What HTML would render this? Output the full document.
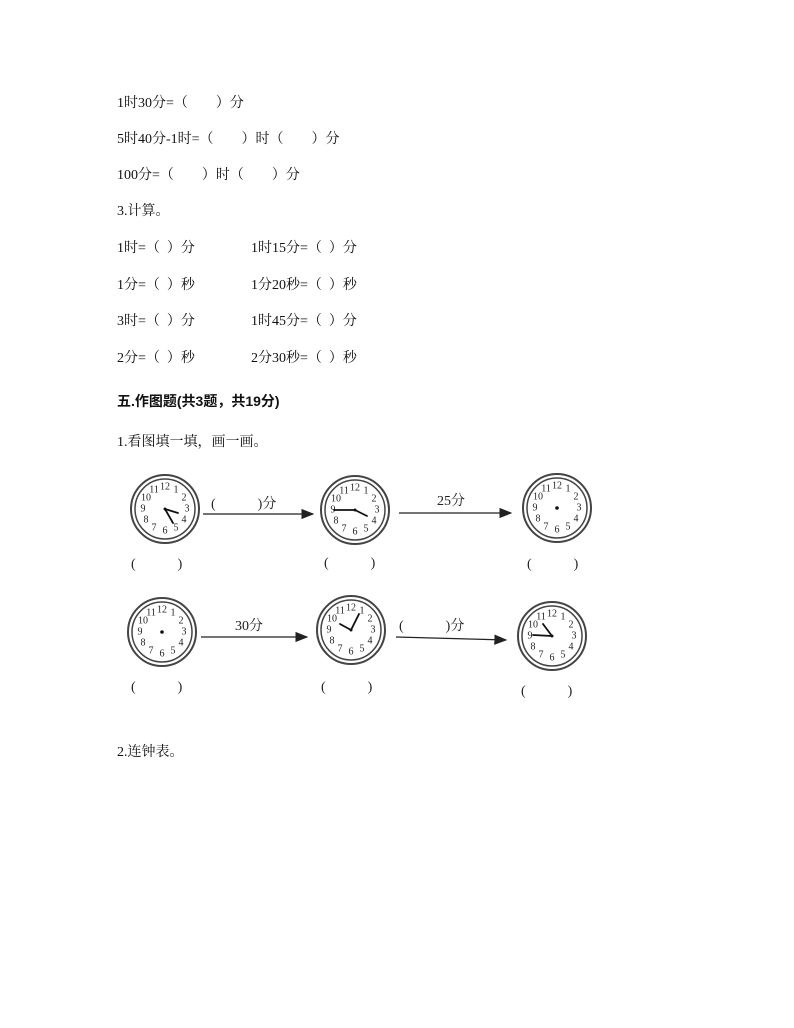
<!DOCTYPE html>
<html><head><meta charset="utf-8"><style>
body{margin:0;width:794px;height:1028px;background:#fff;position:relative;font-family:"Liberation Serif","Noto Serif CJK SC","Noto Sans CJK SC",serif;color:#111}
.t{position:absolute;font-size:14px;line-height:16px;white-space:pre}
svg{position:absolute;left:0;top:0}
</style></head><body>
<div class="t" style="left:117px;top:96px">1时30分=（　　）分</div>
<div class="t" style="left:117px;top:132px">5时40分-1时=（　　）时（　　）分</div>
<div class="t" style="left:117px;top:168px">100分=（　　）时（　　）分</div>
<div class="t" style="left:117px;top:204px">3.计算。</div>
<div class="t" style="left:117px;top:241px">1时=（  ）分</div>
<div class="t" style="left:251px;top:241px">1时15分=（  ）分</div>
<div class="t" style="left:117px;top:278px">1分=（  ）秒</div>
<div class="t" style="left:251px;top:278px">1分20秒=（  ）秒</div>
<div class="t" style="left:117px;top:314px">3时=（  ）分</div>
<div class="t" style="left:251px;top:314px">1时45分=（  ）分</div>
<div class="t" style="left:117px;top:351px">2分=（  ）秒</div>
<div class="t" style="left:251px;top:351px">2分30秒=（  ）秒</div>
<div class="t" style="left:117px;top:393px;font-weight:bold;font-family:'Liberation Sans','Noto Sans CJK SC',sans-serif">五.作图题(共3题，共19分)</div>
<div class="t" style="left:117px;top:435px">1.看图填一填，画一画。</div>
<div class="t" style="left:117px;top:745px">2.连钟表。</div>
<svg width="794" height="1028" font-family="Liberation Serif, serif">
<defs><marker id="a" markerWidth="10" markerHeight="8" refX="9" refY="4" orient="auto"><path d="M0,0L10,4L0,8z" fill="#222"/></marker></defs>
<g stroke="#222" stroke-width="1.3" marker-end="url(#a)">
<line x1="203" y1="514" x2="313" y2="514"/><line x1="399" y1="513" x2="511" y2="513"/>
<line x1="201" y1="637" x2="307" y2="637"/><line x1="396" y1="637" x2="506" y2="640"/>
</g>
<g font-size="14" fill="#222" font-family="Liberation Serif, Noto Serif CJK SC, serif">
<text x="211" y="508">(　　　)分</text><text x="437" y="505">25分</text>
<text x="235" y="630">30分</text><text x="399" y="630">(　　　)分</text>
<text x="131" y="568">(　　　)</text><text x="324" y="567">(　　　)</text><text x="527" y="568">(　　　)</text>
<text x="131" y="691">(　　　)</text><text x="321" y="691">(　　　)</text><text x="521" y="695">(　　　)</text>
</g>
<g transform="translate(165,509)"><circle r="34" fill="#fff" stroke="#444" stroke-width="2"/><circle r="30" fill="#fff" stroke="#444" stroke-width="1.5"/></g>
<g transform="translate(355,510)"><circle r="34" fill="#fff" stroke="#444" stroke-width="2"/><circle r="30" fill="#fff" stroke="#444" stroke-width="1.5"/></g>
<g transform="translate(557,508)"><circle r="34" fill="#fff" stroke="#444" stroke-width="2"/><circle r="30" fill="#fff" stroke="#444" stroke-width="1.5"/></g>
<g transform="translate(162,632)"><circle r="34" fill="#fff" stroke="#444" stroke-width="2"/><circle r="30" fill="#fff" stroke="#444" stroke-width="1.5"/></g>
<g transform="translate(351,630)"><circle r="34" fill="#fff" stroke="#444" stroke-width="2"/><circle r="30" fill="#fff" stroke="#444" stroke-width="1.5"/></g>
<g transform="translate(552,636)"><circle r="34" fill="#fff" stroke="#444" stroke-width="2"/><circle r="30" fill="#fff" stroke="#444" stroke-width="1.5"/></g>
<g font-size="10" fill="#222" text-anchor="middle" dominant-baseline="central">
<g transform="translate(165,509)"><text y="-22">12</text><text x="11" y="-19">1</text><text x="19" y="-11">2</text><text x="22">3</text><text x="19" y="11">4</text><text x="11" y="19">5</text><text y="22">6</text><text x="-11" y="19">7</text><text x="-19" y="11">8</text><text x="-22">9</text><text x="-19" y="-11">10</text><text x="-11" y="-19">11</text></g>
<g transform="translate(355,510)"><text y="-22">12</text><text x="11" y="-19">1</text><text x="19" y="-11">2</text><text x="22">3</text><text x="19" y="11">4</text><text x="11" y="19">5</text><text y="22">6</text><text x="-11" y="19">7</text><text x="-19" y="11">8</text><text x="-22">9</text><text x="-19" y="-11">10</text><text x="-11" y="-19">11</text></g>
<g transform="translate(557,508)"><text y="-22">12</text><text x="11" y="-19">1</text><text x="19" y="-11">2</text><text x="22">3</text><text x="19" y="11">4</text><text x="11" y="19">5</text><text y="22">6</text><text x="-11" y="19">7</text><text x="-19" y="11">8</text><text x="-22">9</text><text x="-19" y="-11">10</text><text x="-11" y="-19">11</text></g>
<g transform="translate(162,632)"><text y="-22">12</text><text x="11" y="-19">1</text><text x="19" y="-11">2</text><text x="22">3</text><text x="19" y="11">4</text><text x="11" y="19">5</text><text y="22">6</text><text x="-11" y="19">7</text><text x="-19" y="11">8</text><text x="-22">9</text><text x="-19" y="-11">10</text><text x="-11" y="-19">11</text></g>
<g transform="translate(351,630)"><text y="-22">12</text><text x="11" y="-19">1</text><text x="19" y="-11">2</text><text x="22">3</text><text x="19" y="11">4</text><text x="11" y="19">5</text><text y="22">6</text><text x="-11" y="19">7</text><text x="-19" y="11">8</text><text x="-22">9</text><text x="-19" y="-11">10</text><text x="-11" y="-19">11</text></g>
<g transform="translate(552,636)"><text y="-22">12</text><text x="11" y="-19">1</text><text x="19" y="-11">2</text><text x="22">3</text><text x="19" y="11">4</text><text x="11" y="19">5</text><text y="22">6</text><text x="-11" y="19">7</text><text x="-19" y="11">8</text><text x="-22">9</text><text x="-19" y="-11">10</text><text x="-11" y="-19">11</text></g>
</g>
<g stroke="#111" stroke-width="1.8" stroke-linecap="round">
<line x1="165" y1="509" x2="178" y2="513"/><line x1="165" y1="509" x2="173" y2="523"/>
<line x1="355" y1="510" x2="367" y2="516"/><line x1="355" y1="510" x2="334" y2="510"/>
<line x1="351" y1="630" x2="340" y2="624"/><line x1="351" y1="630" x2="359" y2="614"/>
<line x1="552" y1="636" x2="543" y2="624"/><line x1="552" y1="636" x2="533" y2="635"/>
</g>
<g fill="#111"><circle cx="557" cy="508" r="1.8"/><circle cx="162" cy="632" r="1.8"/><circle cx="165" cy="509" r="1.5"/><circle cx="355" cy="510" r="1.5"/><circle cx="351" cy="630" r="1.5"/><circle cx="552" cy="636" r="1.5"/></g>
</svg>
</body></html>
